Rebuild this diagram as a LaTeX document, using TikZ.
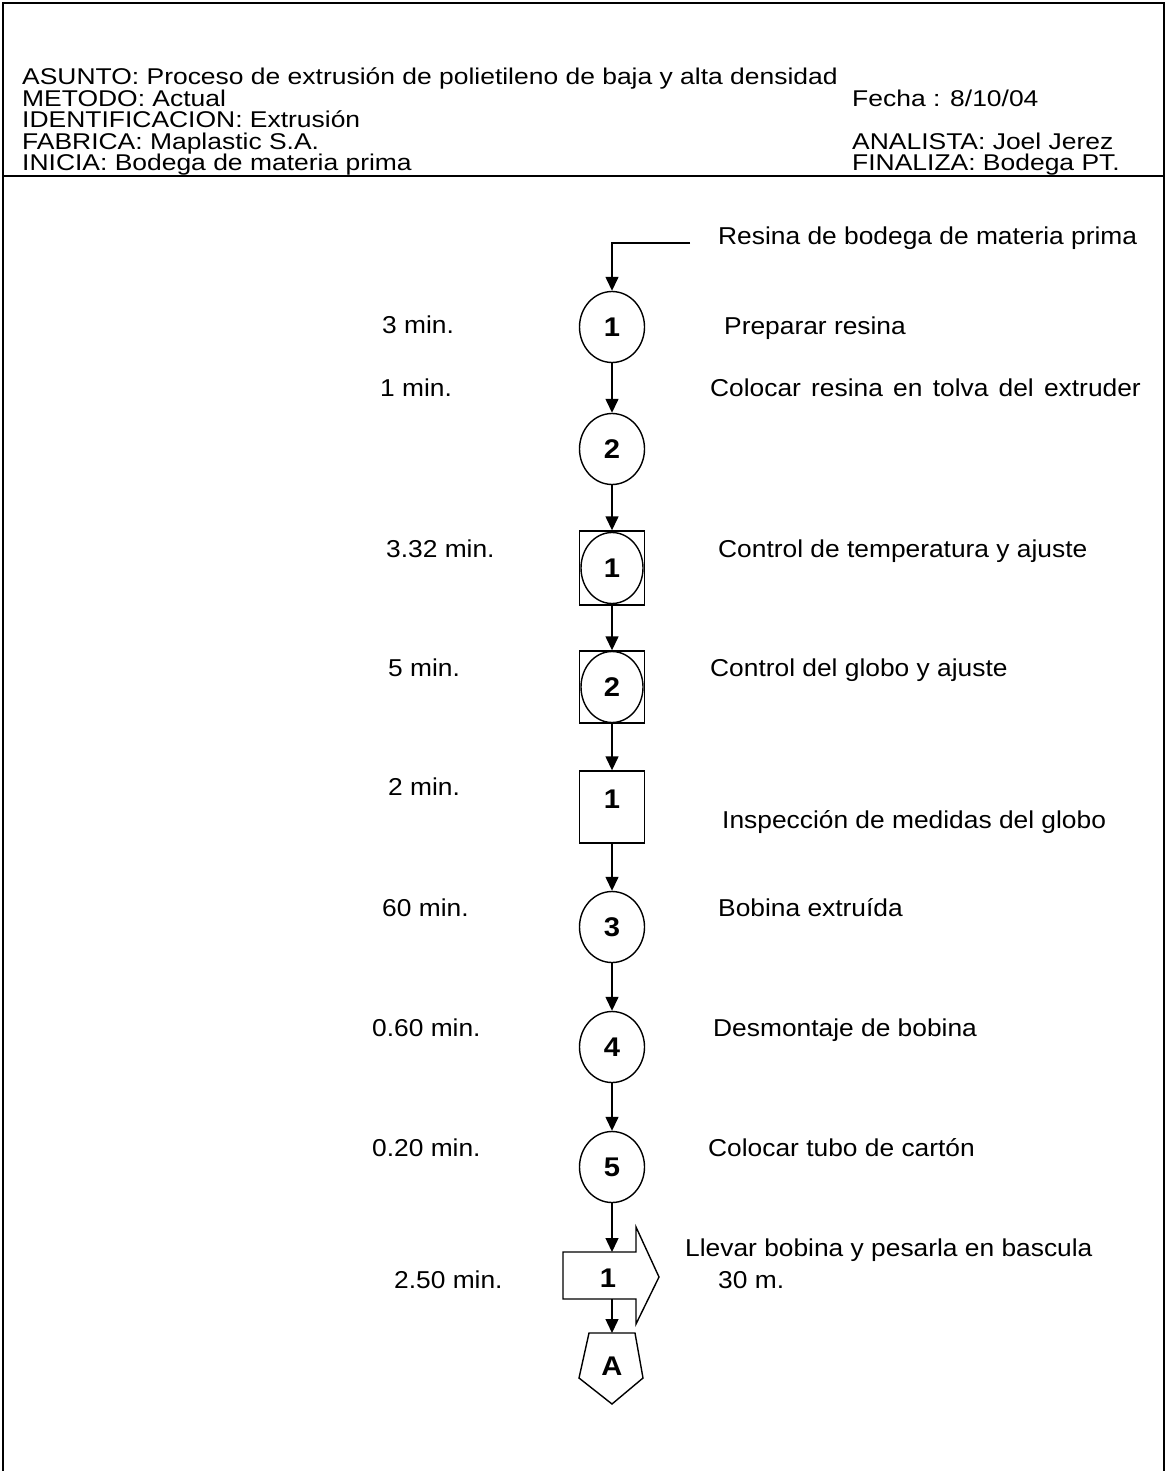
\documentclass[tikz,border=0pt]{standalone}
\usepackage{fontspec}
\setmainfont{Liberation Sans}[FakeStretch=1.08]
\newfontfamily\hdrfont{Liberation Sans}[FakeStretch=1.16]
\usetikzlibrary{shapes.geometric,arrows.meta}
\begin{document}
\begin{tikzpicture}[x=1pt,y=-1pt,
  txt/.style={anchor=base west,inner sep=0pt,font=\fontsize{24.4}{26}\selectfont},
  hdr/.style={anchor=base west,inner sep=0pt,font=\hdrfont\fontsize{22.8}{24}\selectfont},
  numlbl/.style={inner sep=0pt,font=\fontsize{27}{28}\selectfont\bfseries},
  opcirc/.style={ellipse,draw,line width=1.4pt,minimum width=65pt,minimum height=71pt,inner sep=0pt,font=\fontsize{27}{28}\selectfont\bfseries},
  incirc/.style={ellipse,draw,line width=1.4pt,minimum width=62pt,minimum height=71pt,inner sep=0pt,font=\fontsize{27}{28}\selectfont\bfseries},
  sqbox/.style={rectangle,draw,line width=1.4pt,minimum width=65pt,minimum height=73pt,inner sep=0pt},
  frame/.style={line width=2pt},
  flow/.style={line width=1.4pt,-{Triangle[length=14pt,width=13pt]}},
  plain/.style={line width=1.4pt}
]
\useasboundingbox (0,0) rectangle (1167,1471);
% frame
\draw[frame] (3,1471) -- (3,3) -- (1164,3) -- (1164,1471);
\draw[frame] (3,176) -- (1164,176);
% header
\node[hdr] (h1) at (22,85) {ASUNTO: Proceso de extrusión de polietileno de baja y alta densidad};
\node[hdr] (h2) at (22,106.5) {METODO: Actual};
\node[hdr] (h2r) at (852,106.5) {Fecha : 8/10/04};
\node[hdr] (h3) at (22,128) {IDENTIFICACION: Extrusión};
\node[hdr] (h4) at (22,149.5) {FABRICA: Maplastic S.A.};
\node[hdr] (h4r) at (852,149.5) {ANALISTA: Joel Jerez};
\node[hdr] (h5) at (22,171) {INICIA: Bodega de materia prima};
\node[hdr] (h5r) at (852,171) {FINALIZA: Bodega PT.};
% symbols
\node[opcirc] (c1) at (612,327) {1};
\node[opcirc] (c2) at (612,449) {2};
\node[sqbox,minimum height=74pt] (q1) at (612,568) {};
\node[incirc] (q1c) at (612,568) {1};
\node[sqbox,minimum height=72pt] (q2) at (612,687) {};
\node[incirc] (q2c) at (612,687) {2};
\node[sqbox,minimum height=72pt] (i1) at (612,807) {};
\node[numlbl] (i1l) at (612,799) {1};
\node[opcirc] (c3) at (612,927) {3};
\node[opcirc] (c4) at (612,1047) {4};
\node[opcirc] (c5) at (612,1167) {5};
% transport
\node[rectangle,minimum width=73pt,minimum height=47pt,inner sep=0pt] (t1) at (599.5,1275.5) {};
\draw[plain] (563,1252) -- (636,1252) -- (636,1227) -- (659,1277) -- (636,1324) -- (636,1299) -- (563,1299) -- cycle;
\node[numlbl] (t1l) at (608,1278) {1};
\coordinate (t1in) at (612,1252);
\coordinate (t1out) at (612,1299);
% pentagon
\draw[plain] (589,1333) -- (635,1333) -- (643,1378) -- (612,1404) -- (579,1378) -- cycle;
\node[numlbl] (pA) at (612,1366) {A};
\coordinate (pAtop) at (612,1333);
% connectors
\coordinate (s0) at (690,243);
\coordinate (s1) at (612,243);
\draw[flow] (s0) -- (s1) -- (c1.north);
\draw[flow] (c1.south) -- (c2.north);
\draw[flow] (c2.south) -- (q1.north);
\draw[flow] (q1.south) -- (q2.north);
\draw[flow] (q2.south) -- (i1.north);
\draw[flow] (i1.south) -- (c3.north);
\draw[flow] (c3.south) -- (c4.north);
\draw[flow] (c4.south) -- (c5.north);
\draw[flow] (c5.south) -- (t1in);
\draw[flow] (t1out) -- (pAtop);
% labels
\node[txt] (r0) at (718,244) {Resina de bodega de materia prima};
\node[txt] (l1) at (382,333) {3 min.};
\node[txt] (r1) at (724,334) {Preparar resina};
\node[txt] (l2) at (380,396) {1 min.};
\node[txt] (r2) at (710,396) {Colocar\hspace{0.12em} resina\hspace{0.12em} en\hspace{0.12em} tolva\hspace{0.12em} del\hspace{0.12em} extruder};
\node[txt] (l3) at (386,557) {3.32 min.};
\node[txt] (r3) at (718,557) {Control de temperatura y ajuste};
\node[txt] (l4) at (388,676) {5 min.};
\node[txt] (r4) at (710,676) {Control del globo y ajuste};
\node[txt] (l5) at (388,795) {2 min.};
\node[txt] (r5) at (722,828) {Inspección de medidas del globo};
\node[txt] (l6) at (382,916) {60 min.};
\node[txt] (r6) at (718,916) {Bobina extruída};
\node[txt] (l7) at (372,1036) {0.60 min.};
\node[txt] (r7) at (713,1036) {Desmontaje de bobina};
\node[txt] (l8) at (372,1156) {0.20 min.};
\node[txt] (r8) at (708,1156) {Colocar tubo de cartón};
\node[txt] (l9) at (394,1288) {2.50 min.};
\node[txt] (r9) at (685,1256) {Llevar bobina y pesarla en bascula};
\node[txt] (r9b) at (718,1288) {30 m.};
\end{tikzpicture}
\end{document}
